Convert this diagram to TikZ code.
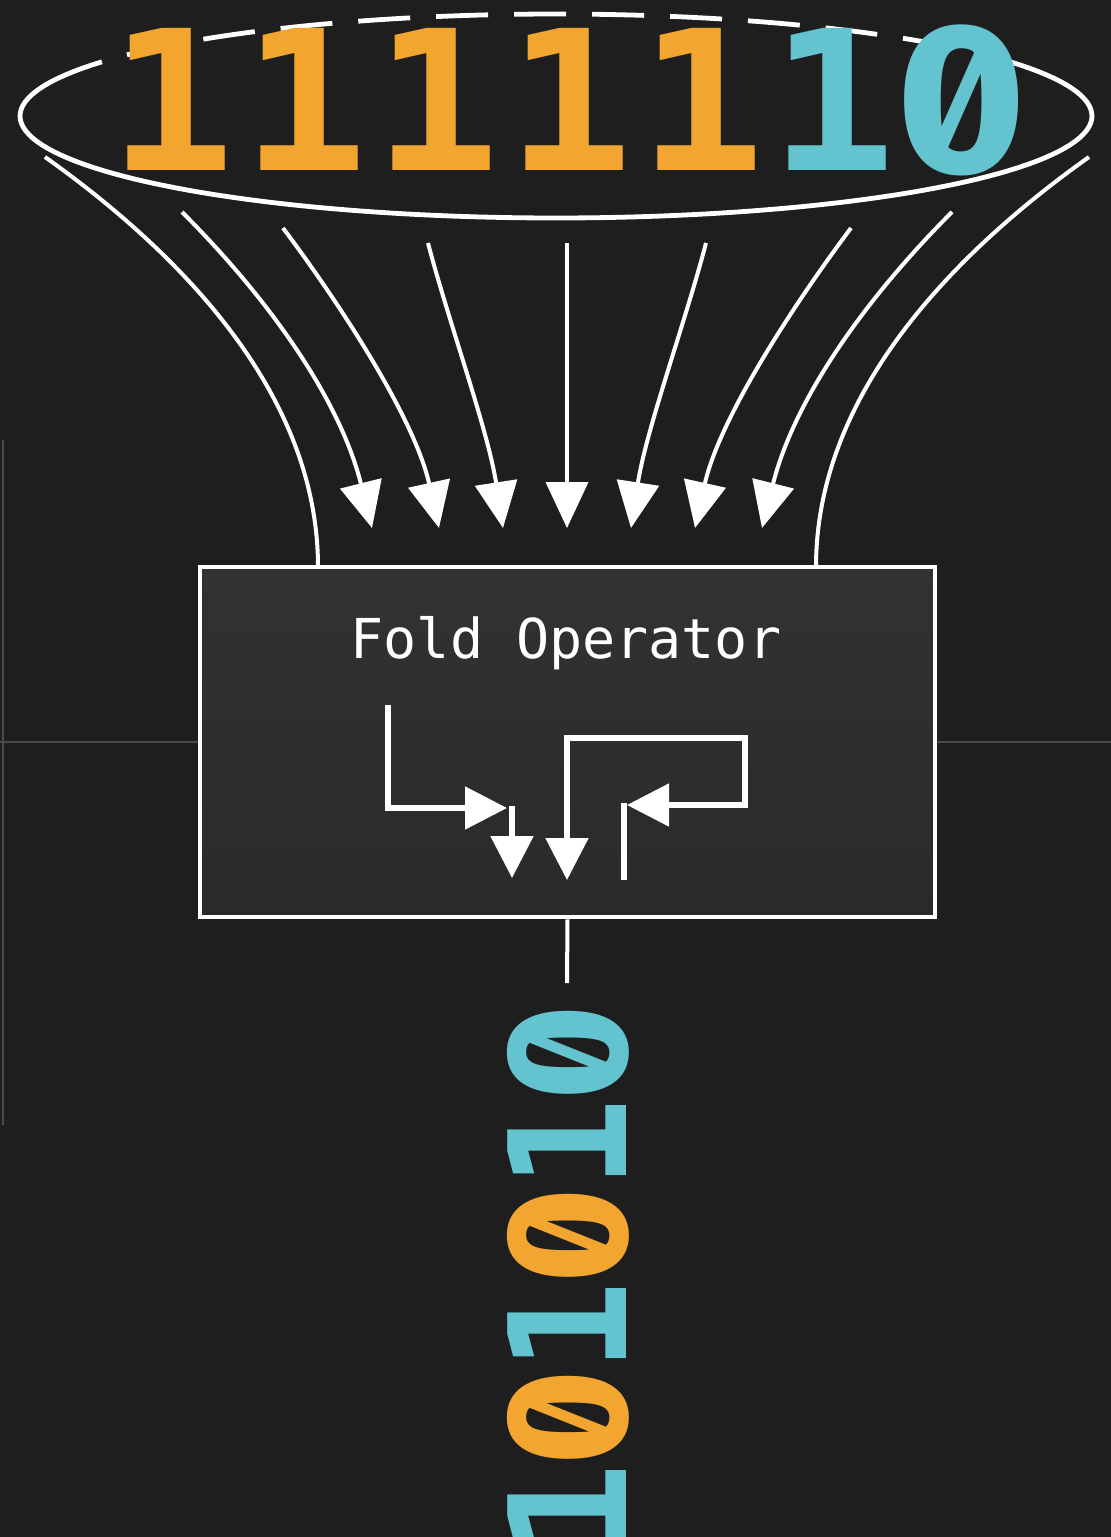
\documentclass[tikz,border=0pt]{standalone}
\usepackage{fontspec}
\newfontfamily\monofont{DejaVu Sans Mono}
\newfontfamily\zerofont[Numbers={SlashedZero,Monospaced}]{Fira Sans}
\usetikzlibrary{arrows.meta}
\definecolor{bg}{HTML}{1E1E1E}
\definecolor{boxtop}{HTML}{323232}
\definecolor{boxbottom}{HTML}{2A2A2A}
\definecolor{digitorange}{HTML}{F2A62F}
\definecolor{digitcyan}{HTML}{63C3CF}
\definecolor{guide}{HTML}{4A4A4A}
\newcommand\slzero{\makebox[0.602em][c]{\scalebox{1.1}[1.03]{\zerofont\bfseries 0}}}
\begin{document}
\begin{tikzpicture}[x=0.5pt,y=-0.5pt,
  flow/.style={white,line width=2pt,-{Triangle[width=21pt,length=23pt]}},
  funnel/.style={white,line width=2pt},
  rim/.style={white,line width=2.4pt},
  icon/.style={white,line width=2.6pt},
  iconarrow/.style={icon,-{Triangle[width=21pt,length=21pt]}},
  topdigit/.style={inner sep=0pt,font=\monofont\bfseries\fontsize{97.5}{97.5}\selectfont},
  topzero/.style={inner sep=0pt,font=\zerofont\bfseries\fontsize{104}{104}\selectfont},
  guideline/.style={guide,line width=1pt}]
\fill[bg] (0,0) rectangle (1111,1537);
\useasboundingbox (0,0) rectangle (1111,1537);
\clip (0,0) rectangle (1111,1537);

% faint guide lines
\coordinate (gl0) at (3,440);
\coordinate (gl1) at (3,1125);
\coordinate (gh0) at (0,742);
\coordinate (gh1) at (1111,742);
\draw[guideline] (gl0) -- (gl1);

% operator box
\node[draw=white,line width=2.4pt,top color=boxtop,bottom color=boxbottom,minimum width=735*0.5pt,minimum height=350*0.5pt,inner sep=0pt]
  (fold) at (567.5,742) {};
\draw[guideline] (gh0) -- (fold.west);
\draw[guideline] (fold.east) -- (gh1);
\node[white,inner sep=0pt,font=\monofont\fontsize{27.5}{27.5}\selectfont] (foldlabel) at (566,643) {Fold Operator};

% rim of the funnel
\draw[rim] plot[domain=148:388,samples=120] ({556+536*cos(\x)},{116-102*sin(\x)});
\draw[rim,dash pattern=on 26pt off 13pt] plot[domain=28:148,samples=120] ({556+536*cos(\x)},{116-102*sin(\x)});

% digits on the rim
\node[topdigit,text=digitorange] (d1) at (172,99) {\scalebox{1.08}[1]{1}};
\node[topdigit,text=digitorange] (d2) at (305,99) {\scalebox{1.08}[1]{1}};
\node[topdigit,text=digitorange] (d3) at (437,99) {\scalebox{1.08}[1]{1}};
\node[topdigit,text=digitorange] (d4) at (570,99) {\scalebox{1.08}[1]{1}};
\node[topdigit,text=digitorange] (d5) at (702,99) {\scalebox{1.08}[1]{1}};
\node[topdigit,text=digitcyan] (d6) at (833,99) {\scalebox{1.08}[1]{1}};
\node[topzero,text=digitcyan] (d7) at (962,100) {\scalebox{1.1}[1]{0}};

% funnel sides
\coordinate (fl0) at (45,157);
\coordinate (fl1) at (318,567);
\coordinate (fr0) at (1089,157);
\coordinate (fr1) at (816,567);
\draw[funnel] (fl0) .. controls (190,260) and (318,400) .. (fl1);
\draw[funnel] (fr0) .. controls (944,260) and (816,400) .. (fr1);

% inflowing arrows
\coordinate (a1s) at (182,212); \coordinate (a1e) at (372,528);
\coordinate (a2s) at (283,228); \coordinate (a2e) at (439,528);
\coordinate (a3s) at (428,243); \coordinate (a3e) at (503,528);
\coordinate (a4s) at (567,243); \coordinate (a4e) at (567,528);
\coordinate (a5s) at (706,243); \coordinate (a5e) at (631,528);
\coordinate (a6s) at (851,228); \coordinate (a6e) at (695,528);
\coordinate (a7s) at (952,212); \coordinate (a7e) at (762,528);
\draw[flow] (a1s) .. controls (270,300) and (340,400) .. (a1e);
\draw[flow] (a2s) .. controls (343,308) and (415,420) .. (a2e);
\draw[flow] (a3s) .. controls (448,320) and (488,430) .. (a3e);
\draw[flow] (a4s) -- (a4e);
\draw[flow] (a5s) .. controls (686,320) and (646,430) .. (a5e);
\draw[flow] (a6s) .. controls (791,308) and (719,420) .. (a6e);
\draw[flow] (a7s) .. controls (864,300) and (794,400) .. (a7e);

% icon inside the box
\coordinate (ia0) at (388,705);
\coordinate (ia1) at (507,808);
\coordinate (ib0) at (512,806);
\coordinate (ib1) at (512,878);
\coordinate (ic0) at (567,880);
\coordinate (ic1) at (567,738);
\coordinate (ic2) at (745,738);
\coordinate (ic3) at (745,805);
\coordinate (ic4) at (627,805);
\coordinate (id0) at (624,880);
\coordinate (id1) at (624,803);
\draw[iconarrow] (ia0) |- (ia1);
\draw[iconarrow] (ib0) -- (ib1);
\draw[icon,{Triangle[width=21pt,length=21pt]}-{Triangle[width=21pt,length=21pt]}] (ic0) -- (ic1) -- (ic2) -- (ic3) -- (ic4);
\draw[icon] (id0) -- (id1);

% output
\coordinate (outstem) at (567,983);
\draw[funnel] (fold.south) -- (outstem);
\node[inner sep=0pt,rotate=90,font=\monofont\bfseries\fontsize{81.5}{81.5}\selectfont] (result) at (568,1281)
  {\scalebox{0.93}[1]{\textcolor{digitcyan}{1}\textcolor{digitorange}{\slzero}\textcolor{digitcyan}{1}\textcolor{digitorange}{\slzero}\textcolor{digitcyan}{1}\textcolor{digitcyan}{\slzero}}};
\end{tikzpicture}
\end{document}
